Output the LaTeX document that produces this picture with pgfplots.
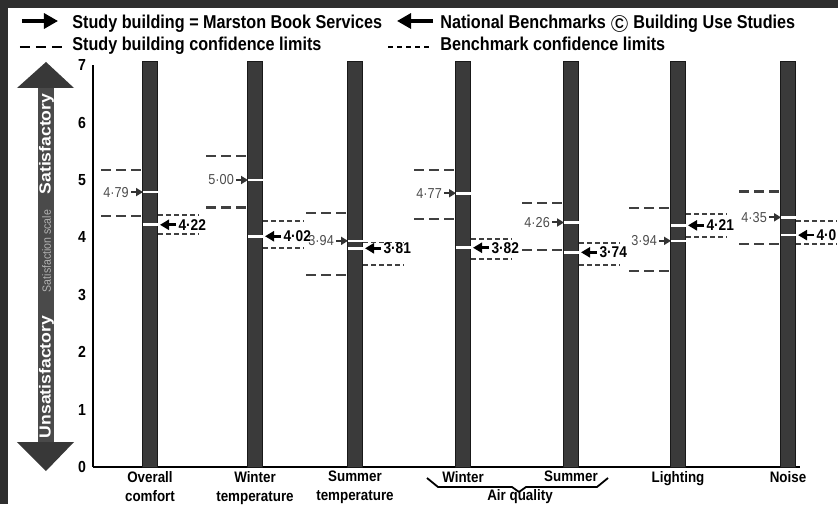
\documentclass[border=0pt]{standalone}
\usepackage{fontspec}
\setmainfont{Liberation Sans}
\newfontfamily\legfont{Liberation Sans}[FakeStretch=0.87]
\newfontfamily\numfont{Liberation Sans}[FakeStretch=0.88]
\newfontfamily\arrfont{Liberation Sans}[FakeStretch=1.1]
\usepackage{pgfplots}
\pgfplotsset{compat=1.18}
\usetikzlibrary{arrows.meta}
\definecolor{barcol}{HTML}{3A3A3A}
\definecolor{framecol}{HTML}{2E2E2E}
\definecolor{shaftcol}{HTML}{4A4A4A}
\definecolor{headcol}{HTML}{383838}
\tikzset{
  studydash/.style={line width=1.1pt, black!75, dash pattern=on 5pt off 2.5pt},
  benchdash/.style={line width=0.8pt, black!75, dash pattern=on 2.5pt off 1.5pt},
  sarrow/.style={line width=1pt, black!80, -{Triangle[length=3.5pt,width=4pt]}},
  barrow/.style={line width=1.3pt, black, -{Triangle[length=4.5pt,width=5pt]}},
  slab/.style={anchor=east, inner sep=0.6pt, text=black!70, font=\numfont\fontsize{7.2}{8}\selectfont},
  blab/.style={anchor=west, inner sep=0.6pt, text=black, font=\numfont\bfseries\fontsize{7.8}{8}\selectfont},
}
\begin{document}
\begin{tikzpicture}[x=0.5pt,y=0.5pt]
\begin{axis}[
  scale only axis, width=353.5pt, height=200.9pt,
  xmin=0.93, xmax=8.00, ymin=0, ymax=7,
  axis x line*=bottom, axis y line*=left,
  axis line style={line width=1pt,-},
  major tick length=0pt,
  ytick={0,1,2,3,4,5,6,7},
  yticklabel style={font=\numfont\bfseries\fontsize{8}{9}\selectfont, xshift=0pt},
  /pgf/number format/assume math mode=true,
  xtick={1.50,2.55,3.55,4.63,5.71,6.78,7.88},
  xticklabels={{Overall\\comfort},{Winter\\temperature},{Summer\\temperature},{Winter},{Summer},{Lighting},{Noise}},
  xticklabel style={font=\numfont\bfseries\fontsize{7.6}{9.6}\selectfont, align=center, anchor=north, yshift=1.5pt},
  clip=false,
]
\coordinate (O) at (axis cs:0.93,0);
% bars
\addplot[ybar, bar width=7.5pt, fill=barcol, draw=black!90, line width=0.4pt]
  coordinates {(1.50,7.06) (2.55,7.06) (3.55,7.06) (4.63,7.06) (5.71,7.06) (6.78,7.06) (7.88,7.06)};
% white marks on bars (study and benchmark values)
\addplot[only marks, mark=-, mark size=3.75pt, mark options={white, line width=1.3pt}]
  coordinates {(1.50,4.79) (2.55,5.00) (3.55,3.94) (4.63,4.77) (5.71,4.26) (6.78,3.94) (7.88,4.35)
               (1.50,4.22) (2.55,4.02) (3.55,3.81) (4.63,3.82) (5.71,3.74) (6.78,4.21) (7.88,4.04)};
% study building confidence limits
\addplot[studydash] coordinates {(1.01,5.17) (1.42,5.17)};
\addplot[studydash] coordinates {(1.01,4.37) (1.42,4.37)};
\addplot[studydash] coordinates {(2.06,5.42) (2.47,5.42)};
\addplot[studydash] coordinates {(2.06,4.52) (2.47,4.52)};
\addplot[studydash] coordinates {(3.06,4.43) (3.47,4.43)};
\addplot[studydash] coordinates {(3.06,3.34) (3.47,3.34)};
\addplot[studydash] coordinates {(4.14,5.17) (4.55,5.17)};
\addplot[studydash] coordinates {(4.14,4.32) (4.55,4.32)};
\addplot[studydash] coordinates {(5.22,4.60) (5.63,4.60)};
\addplot[studydash] coordinates {(5.22,3.78) (5.63,3.78)};
\addplot[studydash] coordinates {(6.29,4.51) (6.70,4.51)};
\addplot[studydash] coordinates {(6.29,3.41) (6.70,3.41)};
\addplot[studydash] coordinates {(7.39,4.80) (7.80,4.80)};
\addplot[studydash] coordinates {(7.39,3.89) (7.80,3.89)};
% benchmark confidence limits
\addplot[benchdash] coordinates {(1.58,4.39) (1.99,4.39)};
\addplot[benchdash] coordinates {(1.58,4.06) (1.99,4.06)};
\addplot[benchdash] coordinates {(2.63,4.29) (3.04,4.29)};
\addplot[benchdash] coordinates {(2.63,3.82) (3.04,3.82)};
\addplot[benchdash] coordinates {(3.63,3.91) (4.04,3.91)};
\addplot[benchdash] coordinates {(3.63,3.52) (4.04,3.52)};
\addplot[benchdash] coordinates {(4.71,3.97) (5.12,3.97)};
\addplot[benchdash] coordinates {(4.71,3.62) (5.12,3.62)};
\addplot[benchdash] coordinates {(5.79,3.90) (6.20,3.90)};
\addplot[benchdash] coordinates {(5.79,3.52) (6.20,3.52)};
\addplot[benchdash] coordinates {(6.86,4.41) (7.27,4.41)};
\addplot[benchdash] coordinates {(6.86,4.01) (7.27,4.01)};
\addplot[benchdash] coordinates {(7.96,4.29) (8.37,4.29)};
\addplot[benchdash] coordinates {(7.96,3.89) (8.37,3.89)};
% study building arrows + labels
\addplot[sarrow] coordinates {(1.31,4.79) (1.43,4.79)} node[pos=0,slab] {4·79};
\addplot[sarrow] coordinates {(2.36,5.00) (2.48,5.00)} node[pos=0,slab] {5·00};
\addplot[sarrow] coordinates {(3.36,3.94) (3.48,3.94)} node[pos=0,slab] {3·94};
\addplot[sarrow] coordinates {(4.44,4.77) (4.56,4.77)} node[pos=0,slab] {4·77};
\addplot[sarrow] coordinates {(5.52,4.26) (5.64,4.26)} node[pos=0,slab] {4·26};
\addplot[sarrow] coordinates {(6.59,3.94) (6.71,3.94)} node[pos=0,slab] {3·94};
\addplot[sarrow] coordinates {(7.69,4.35) (7.81,4.35)} node[pos=0,slab] {4·35};
% benchmark arrows + labels
\addplot[barrow] coordinates {(1.76,4.22) (1.60,4.22)} node[pos=0,blab] {4·22};
\addplot[barrow] coordinates {(2.81,4.02) (2.65,4.02)} node[pos=0,blab] {4·02};
\addplot[barrow] coordinates {(3.81,3.81) (3.65,3.81)} node[pos=0,blab] {3·81};
\addplot[barrow] coordinates {(4.89,3.82) (4.73,3.82)} node[pos=0,blab] {3·82};
\addplot[barrow] coordinates {(5.97,3.74) (5.81,3.74)} node[pos=0,blab] {3·74};
\addplot[barrow] coordinates {(7.04,4.21) (6.88,4.21)} node[pos=0,blab] {4·21};
\addplot[barrow] coordinates {(8.14,4.04) (7.98,4.04)} node[pos=0,blab] {4·0};
\end{axis}
\begin{scope}[shift={(O)}, xshift=-46.5pt, yshift=-18.5pt]
% frame bands
\fill[framecol] (0,0) rectangle (8,504);
\fill[framecol] (0,496) rectangle (838,504);
% legend
\draw[line width=1.6pt,-{Triangle[length=7pt,width=7.5pt]}] (22,483) -- (58,483);
\node[anchor=base west,inner sep=0] at (72,475) {\legfont\bfseries\fontsize{9.3}{10}\selectfont Study building = Marston Book Services};
\draw[line width=1.6pt,-{Triangle[length=7pt,width=7.5pt]}] (433,483) -- (397,483);
\node[anchor=base west,inner sep=0] at (440,475) {\legfont\bfseries\fontsize{9.3}{10}\selectfont National Benchmarks \textcircled{\scriptsize C} Building Use Studies};
\draw[line width=1.3pt,dash pattern=on 5pt off 3pt] (20,457) -- (63,457);
\node[anchor=base west,inner sep=0] at (72,453) {\legfont\bfseries\fontsize{9.3}{10}\selectfont Study building confidence limits};
\draw[line width=0.8pt,dash pattern=on 2.5pt off 2pt] (388,457) -- (430,457);
\node[anchor=base west,inner sep=0] at (440,453) {\legfont\bfseries\fontsize{9.3}{10}\selectfont Benchmark confidence limits};
% big satisfaction arrow
\fill[shaftcol] (38.5,62) rectangle (54.5,416);
\fill[headcol] (46,442) -- (17,416) -- (74,416) -- cycle;
\fill[headcol] (46,33) -- (17,62) -- (74,62) -- cycle;
\node[rotate=90,text=white] at (46.5,360) {\arrfont\bfseries\fontsize{8}{9}\selectfont Satisfactory};
\node[rotate=90,text=black!30] at (46.5,253) {\numfont\fontsize{6}{7}\selectfont Satisfaction scale};
\node[rotate=90,text=white] at (46.5,127) {\arrfont\bfseries\fontsize{8}{9}\selectfont Unsatisfactory};
% air quality brace
\draw[line width=0.9pt, line join=round] (427,26) -- (438,17) -- (512,17) -- (519,12) -- (526,17) -- (597,17) -- (608,26);
\node at (520,7) {\numfont\bfseries\fontsize{7.6}{9}\selectfont Air quality};
\pgfresetboundingbox
\path[use as bounding box] (0,0) rectangle (838,504);
\end{scope}
\end{tikzpicture}
\end{document}
